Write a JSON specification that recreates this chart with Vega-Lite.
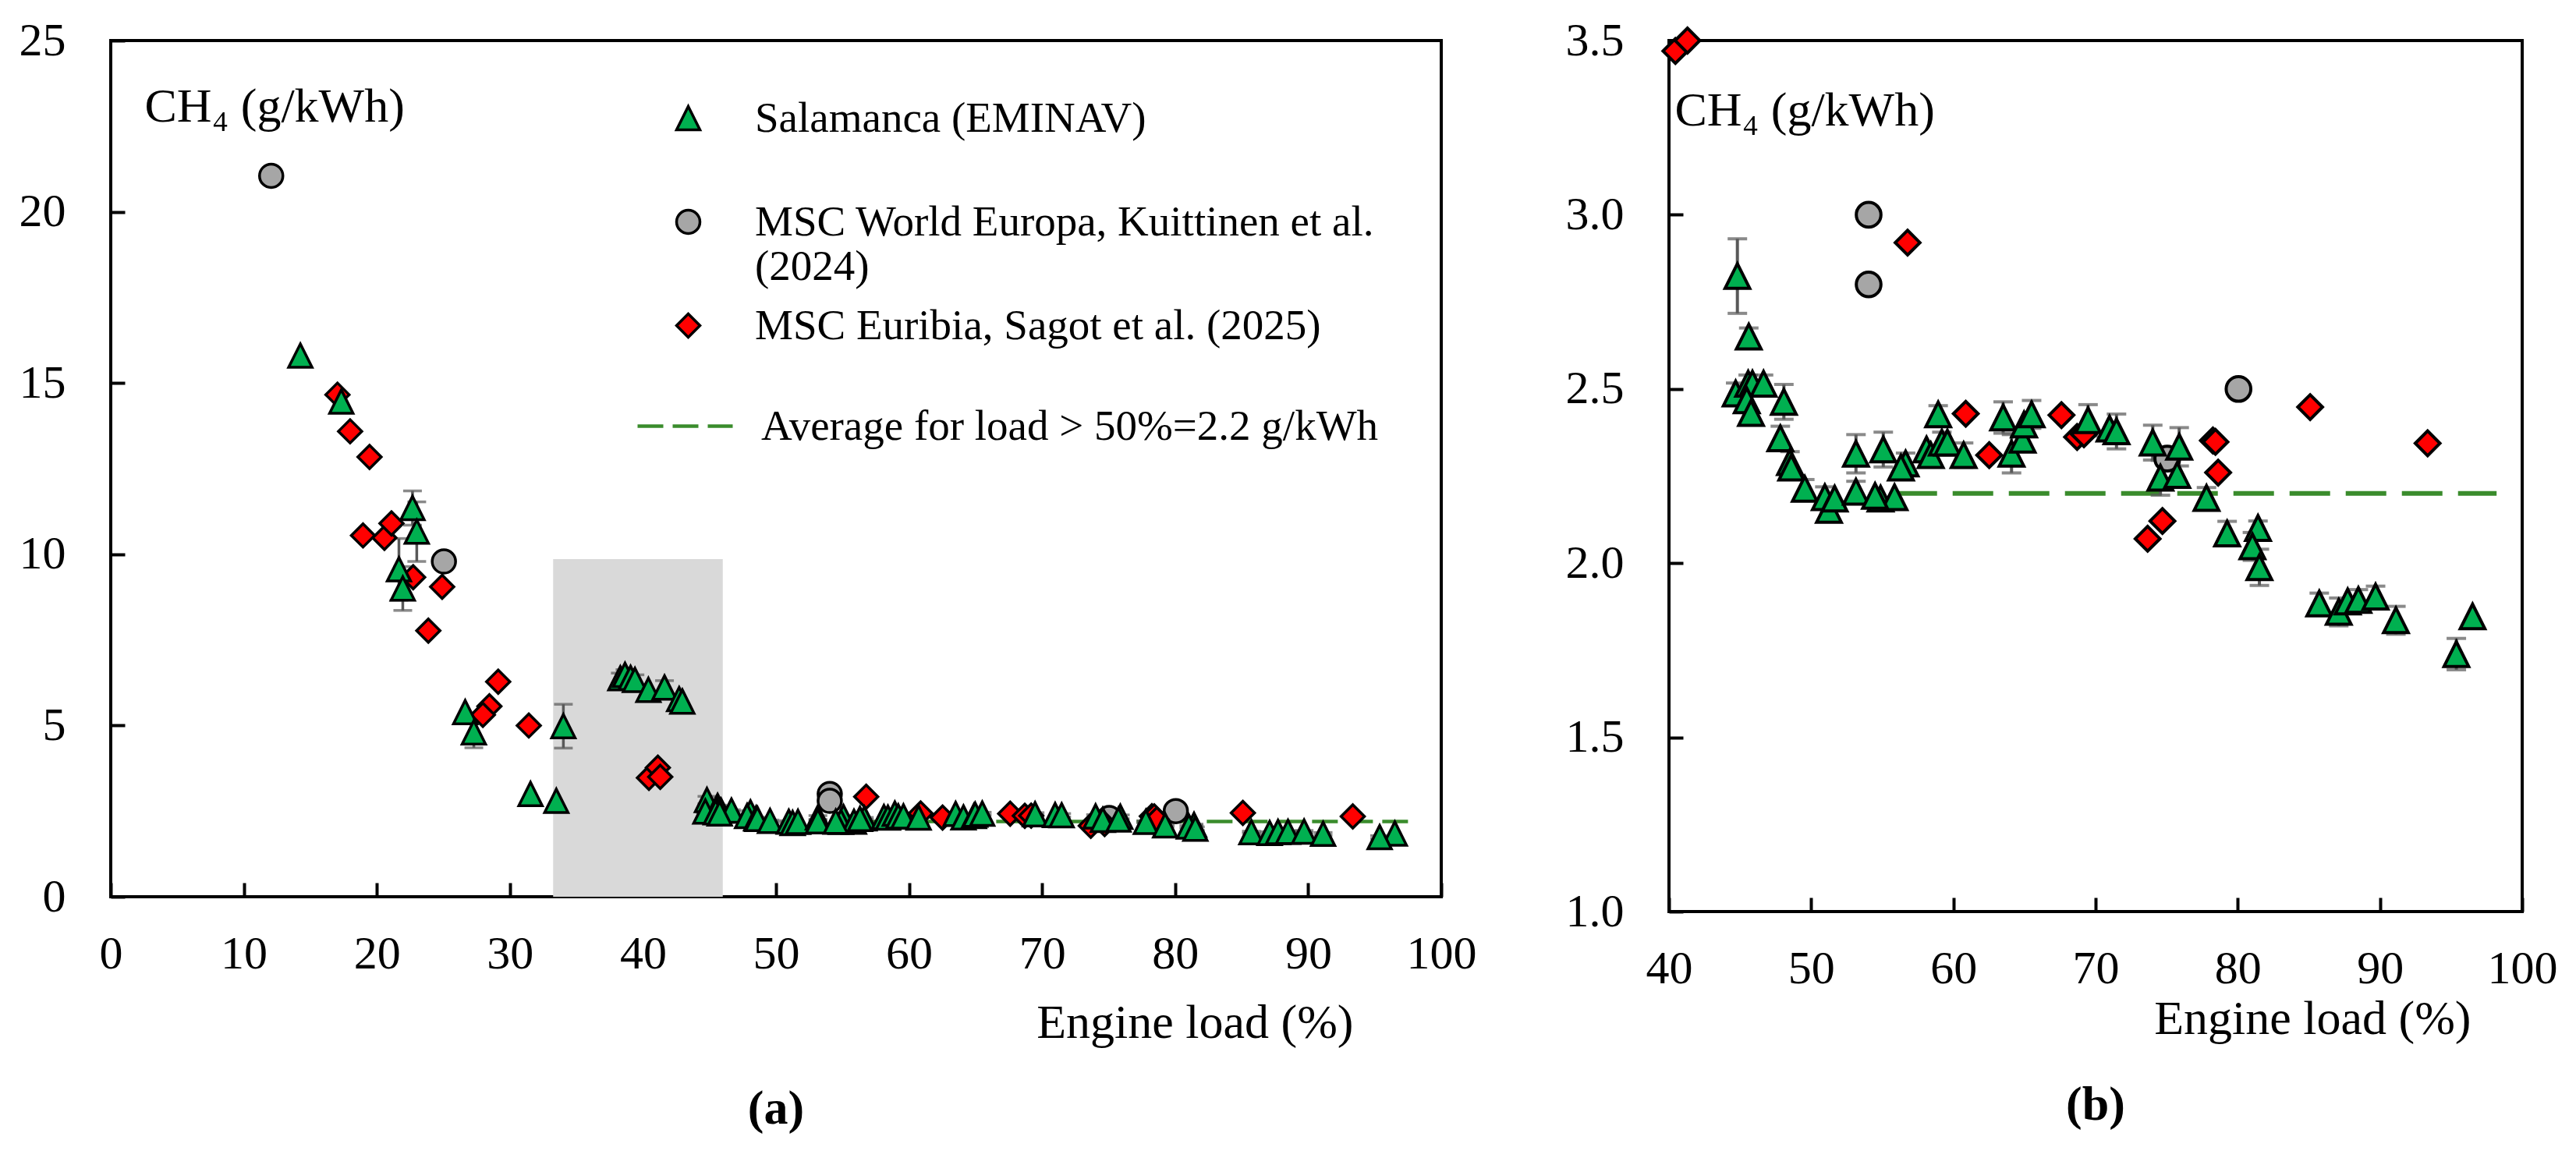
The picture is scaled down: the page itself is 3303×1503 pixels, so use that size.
{
  "$schema": "https://vega.github.io/schema/vega-lite/v6.json",
  "background": "white",
  "padding": {"left": 22, "top": 20, "right": 0, "bottom": 0},
  "spacing": 110,
  "datasets": {
    "pts": [
      {"src": "MSC World Europa, Kuittinen et al. (2024)", "load": 12.06, "ch4": 21.05},
      {"src": "MSC World Europa, Kuittinen et al. (2024)", "load": 25.04, "ch4": 9.79},
      {"src": "MSC World Europa, Kuittinen et al. (2024)", "load": 54.04, "ch4": 3.0},
      {"src": "MSC World Europa, Kuittinen et al. (2024)", "load": 54.04, "ch4": 2.8},
      {"src": "MSC World Europa, Kuittinen et al. (2024)", "load": 75.04, "ch4": 2.3},
      {"src": "MSC World Europa, Kuittinen et al. (2024)", "load": 80.05, "ch4": 2.5},
      {"src": "MSC Euribia, Sagot et al. (2025)", "load": 17.04, "ch4": 14.66},
      {"src": "MSC Euribia, Sagot et al. (2025)", "load": 17.99, "ch4": 13.59},
      {"src": "MSC Euribia, Sagot et al. (2025)", "load": 19.45, "ch4": 12.84},
      {"src": "MSC Euribia, Sagot et al. (2025)", "load": 18.96, "ch4": 10.55},
      {"src": "MSC Euribia, Sagot et al. (2025)", "load": 20.57, "ch4": 10.48},
      {"src": "MSC Euribia, Sagot et al. (2025)", "load": 21.1, "ch4": 10.9},
      {"src": "MSC Euribia, Sagot et al. (2025)", "load": 22.73, "ch4": 9.33},
      {"src": "MSC Euribia, Sagot et al. (2025)", "load": 24.91, "ch4": 9.05},
      {"src": "MSC Euribia, Sagot et al. (2025)", "load": 23.87, "ch4": 7.77},
      {"src": "MSC Euribia, Sagot et al. (2025)", "load": 29.12, "ch4": 6.28},
      {"src": "MSC Euribia, Sagot et al. (2025)", "load": 28.46, "ch4": 5.56},
      {"src": "MSC Euribia, Sagot et al. (2025)", "load": 27.97, "ch4": 5.31},
      {"src": "MSC Euribia, Sagot et al. (2025)", "load": 31.42, "ch4": 5.0},
      {"src": "MSC Euribia, Sagot et al. (2025)", "load": 40.45, "ch4": 3.47},
      {"src": "MSC Euribia, Sagot et al. (2025)", "load": 41.12, "ch4": 3.77},
      {"src": "MSC Euribia, Sagot et al. (2025)", "load": 41.3, "ch4": 3.5},
      {"src": "MSC Euribia, Sagot et al. (2025)", "load": 56.78, "ch4": 2.92},
      {"src": "MSC Euribia, Sagot et al. (2025)", "load": 60.87, "ch4": 2.429},
      {"src": "MSC Euribia, Sagot et al. (2025)", "load": 62.52, "ch4": 2.31},
      {"src": "MSC Euribia, Sagot et al. (2025)", "load": 67.6, "ch4": 2.425},
      {"src": "MSC Euribia, Sagot et al. (2025)", "load": 68.7, "ch4": 2.362},
      {"src": "MSC Euribia, Sagot et al. (2025)", "load": 69.18, "ch4": 2.37},
      {"src": "MSC Euribia, Sagot et al. (2025)", "load": 73.66, "ch4": 2.07},
      {"src": "MSC Euribia, Sagot et al. (2025)", "load": 74.7, "ch4": 2.121},
      {"src": "MSC Euribia, Sagot et al. (2025)", "load": 78.25, "ch4": 2.352},
      {"src": "MSC Euribia, Sagot et al. (2025)", "load": 78.43, "ch4": 2.348},
      {"src": "MSC Euribia, Sagot et al. (2025)", "load": 78.62, "ch4": 2.26},
      {"src": "MSC Euribia, Sagot et al. (2025)", "load": 85.09, "ch4": 2.448},
      {"src": "MSC Euribia, Sagot et al. (2025)", "load": 93.35, "ch4": 2.344},
      {"src": "Salamanca (EMINAV)", "load": 14.25, "ch4": 15.8},
      {"src": "Salamanca (EMINAV)", "load": 17.33, "ch4": 14.46},
      {"src": "Salamanca (EMINAV)", "load": 21.66, "ch4": 9.56, "err": 0.9},
      {"src": "Salamanca (EMINAV)", "load": 21.95, "ch4": 9.0, "err": 0.64},
      {"src": "Salamanca (EMINAV)", "load": 22.68, "ch4": 11.35, "err": 0.5},
      {"src": "Salamanca (EMINAV)", "load": 23.0, "ch4": 10.66, "err": 0.87},
      {"src": "Salamanca (EMINAV)", "load": 26.64, "ch4": 5.39},
      {"src": "Salamanca (EMINAV)", "load": 27.29, "ch4": 4.8, "err": 0.45},
      {"src": "Salamanca (EMINAV)", "load": 31.55, "ch4": 3.0},
      {"src": "Salamanca (EMINAV)", "load": 33.49, "ch4": 2.8},
      {"src": "Salamanca (EMINAV)", "load": 34.02, "ch4": 4.98, "err": 0.64},
      {"src": "Salamanca (EMINAV)", "load": 38.3, "ch4": 6.38, "err": 0.15},
      {"src": "Salamanca (EMINAV)", "load": 38.65, "ch4": 6.48, "err": 0.15},
      {"src": "Salamanca (EMINAV)", "load": 39.07, "ch4": 6.39},
      {"src": "Salamanca (EMINAV)", "load": 39.4, "ch4": 6.33, "err": 0.15},
      {"src": "Salamanca (EMINAV)", "load": 40.41, "ch4": 6.04},
      {"src": "Salamanca (EMINAV)", "load": 41.62, "ch4": 6.11, "err": 0.2},
      {"src": "Salamanca (EMINAV)", "load": 42.72, "ch4": 5.77},
      {"src": "Salamanca (EMINAV)", "load": 42.96, "ch4": 5.7},
      {"src": "Salamanca (EMINAV)", "load": 44.81, "ch4": 2.824, "err": 0.107},
      {"src": "Salamanca (EMINAV)", "load": 45.61, "ch4": 2.65, "err": 0.025},
      {"src": "Salamanca (EMINAV)", "load": 44.69, "ch4": 2.487, "err": 0.03},
      {"src": "Salamanca (EMINAV)", "load": 45.57, "ch4": 2.515, "err": 0.025},
      {"src": "Salamanca (EMINAV)", "load": 45.87, "ch4": 2.515},
      {"src": "Salamanca (EMINAV)", "load": 46.65, "ch4": 2.515, "err": 0.025},
      {"src": "Salamanca (EMINAV)", "load": 45.47, "ch4": 2.467},
      {"src": "Salamanca (EMINAV)", "load": 45.77, "ch4": 2.431},
      {"src": "Salamanca (EMINAV)", "load": 48.08, "ch4": 2.463, "err": 0.05},
      {"src": "Salamanca (EMINAV)", "load": 47.83, "ch4": 2.358, "err": 0.035},
      {"src": "Salamanca (EMINAV)", "load": 48.51, "ch4": 2.29, "err": 0.03},
      {"src": "Salamanca (EMINAV)", "load": 48.6, "ch4": 2.274},
      {"src": "Salamanca (EMINAV)", "load": 49.55, "ch4": 2.213, "err": 0.027},
      {"src": "Salamanca (EMINAV)", "load": 50.96, "ch4": 2.189, "err": 0.03},
      {"src": "Salamanca (EMINAV)", "load": 51.25, "ch4": 2.153},
      {"src": "Salamanca (EMINAV)", "load": 51.65, "ch4": 2.185},
      {"src": "Salamanca (EMINAV)", "load": 53.15, "ch4": 2.314, "err": 0.055},
      {"src": "Salamanca (EMINAV)", "load": 53.15, "ch4": 2.205, "err": 0.03},
      {"src": "Salamanca (EMINAV)", "load": 55.07, "ch4": 2.326, "err": 0.05},
      {"src": "Salamanca (EMINAV)", "load": 54.88, "ch4": 2.185},
      {"src": "Salamanca (EMINAV)", "load": 55.86, "ch4": 2.189},
      {"src": "Salamanca (EMINAV)", "load": 54.49, "ch4": 2.193},
      {"src": "Salamanca (EMINAV)", "load": 56.64, "ch4": 2.286, "err": 0.03},
      {"src": "Salamanca (EMINAV)", "load": 56.31, "ch4": 2.274},
      {"src": "Salamanca (EMINAV)", "load": 58.11, "ch4": 2.326},
      {"src": "Salamanca (EMINAV)", "load": 58.41, "ch4": 2.31},
      {"src": "Salamanca (EMINAV)", "load": 58.93, "ch4": 2.427, "err": 0.025},
      {"src": "Salamanca (EMINAV)", "load": 59.19, "ch4": 2.346, "err": 0.03},
      {"src": "Salamanca (EMINAV)", "load": 59.58, "ch4": 2.346},
      {"src": "Salamanca (EMINAV)", "load": 60.72, "ch4": 2.31, "err": 0.035},
      {"src": "Salamanca (EMINAV)", "load": 63.5, "ch4": 2.418, "err": 0.045},
      {"src": "Salamanca (EMINAV)", "load": 64.09, "ch4": 2.314, "err": 0.055},
      {"src": "Salamanca (EMINAV)", "load": 64.87, "ch4": 2.354},
      {"src": "Salamanca (EMINAV)", "load": 64.97, "ch4": 2.398},
      {"src": "Salamanca (EMINAV)", "load": 65.5, "ch4": 2.427, "err": 0.04},
      {"src": "Salamanca (EMINAV)", "load": 69.47, "ch4": 2.41, "err": 0.045},
      {"src": "Salamanca (EMINAV)", "load": 70.98, "ch4": 2.386},
      {"src": "Salamanca (EMINAV)", "load": 71.47, "ch4": 2.378, "err": 0.05},
      {"src": "Salamanca (EMINAV)", "load": 74.02, "ch4": 2.346, "err": 0.05},
      {"src": "Salamanca (EMINAV)", "load": 75.88, "ch4": 2.334, "err": 0.055},
      {"src": "Salamanca (EMINAV)", "load": 74.56, "ch4": 2.245, "err": 0.05},
      {"src": "Salamanca (EMINAV)", "load": 75.74, "ch4": 2.253},
      {"src": "Salamanca (EMINAV)", "load": 77.8, "ch4": 2.187, "err": 0.03},
      {"src": "Salamanca (EMINAV)", "load": 79.25, "ch4": 2.085, "err": 0.035},
      {"src": "Salamanca (EMINAV)", "load": 81.42, "ch4": 2.101, "err": 0.02},
      {"src": "Salamanca (EMINAV)", "load": 81.03, "ch4": 2.048, "err": 0.04},
      {"src": "Salamanca (EMINAV)", "load": 81.52, "ch4": 1.988, "err": 0.052},
      {"src": "Salamanca (EMINAV)", "load": 85.73, "ch4": 1.884, "err": 0.03},
      {"src": "Salamanca (EMINAV)", "load": 87.1, "ch4": 1.86, "err": 0.04},
      {"src": "Salamanca (EMINAV)", "load": 87.73, "ch4": 1.89},
      {"src": "Salamanca (EMINAV)", "load": 88.48, "ch4": 1.894, "err": 0.03},
      {"src": "Salamanca (EMINAV)", "load": 89.69, "ch4": 1.904, "err": 0.03},
      {"src": "Salamanca (EMINAV)", "load": 91.12, "ch4": 1.836, "err": 0.04},
      {"src": "Salamanca (EMINAV)", "load": 96.51, "ch4": 1.847},
      {"src": "Salamanca (EMINAV)", "load": 95.37, "ch4": 1.739, "err": 0.045}
    ],
    "avg": [
      {"label": "Average for load > 50%=2.2 g/kWh", "load": 56, "load2": 98.2, "ch4": 2.2}
    ],
    "shade": [
      {"load": 33.25, "load2": 46, "ch4": 0, "ch42": 9.86}
    ]
  },
  "resolve": {
    "scale": {"x": "independent", "y": "independent", "fill": "independent", "shape": "independent", "stroke": "independent"},
    "legend": {"fill": "independent", "shape": "independent", "stroke": "independent"}
  },
  "hconcat": [
    {
      "width": 1706,
      "height": 1098,
      "title": {"text": "(a)", "orient": "bottom", "offset": 50},
      "encoding": {
        "x": {
          "field": "load", "type": "quantitative",
          "scale": {"domain": [0, 100], "nice": false, "zero": false},
          "axis": {
            "values": [0, 10, 20, 30, 40, 50, 60, 70, 80, 90, 100],
            "labelFlush": false,
            "title": "Engine load (%)",
            "titleX": 1593, "titleY": 180, "titleAlign": "right", "titleAnchor": null, "titleBaseline": "alphabetic"
          }
        },
        "y": {
          "field": "ch4", "type": "quantitative",
          "scale": {"domain": [0, 25], "nice": false},
          "axis": {
            "values": [0, 5, 10, 15, 20, 25],
            "title": "CH₄ (g/kWh)",
            "titleAngle": 0, "titleX": 43, "titleY": 103, "titleAlign": "left", "titleBaseline": "alphabetic"
          }
        }
      },
      "layer": [
        {
          "data": {"name": "shade"},
          "mark": {"type": "rect", "color": "#d9d9d9"},
          "encoding": {"x2": {"field": "load2"}, "y2": {"field": "ch42"}}
        },
        {
          "data": {"name": "avg"},
          "mark": {"type": "rule", "strokeDash": [33, 12], "strokeWidth": 4.5},
          "encoding": {
            "x2": {"field": "load2"},
            "stroke": {
              "field": "label", "type": "nominal",
              "scale": {"range": ["#3a8c2c"]},
              "legend": {
                "orient": "none", "legendX": 673, "legendY": 431, "title": null,
                "symbolType": "stroke", "symbolSize": 14884, "symbolStrokeWidth": 4.5,
                "symbolDash": [33, 12], "labelOffset": 34
              }
            }
          }
        },
        {
          "data": {"name": "pts"},
          "transform": [{"filter": "isValid(datum.err)"}],
          "mark": {
            "type": "errorbar",
            "rule": {"color": "#595959", "strokeWidth": 3.5},
            "ticks": {"color": "#595959", "size": 24, "thickness": 3.5}
          },
          "encoding": {"yError": {"field": "err"}}
        },
        {
          "data": {"name": "pts"},
          "mark": {"type": "point", "filled": true, "stroke": "black", "strokeWidth": 3.5, "opacity": 1, "size": 900},
          "encoding": {
            "fill": {
              "field": "src", "type": "nominal",
              "scale": {
                "domain": ["Salamanca (EMINAV)", "MSC World Europa, Kuittinen et al. (2024)", "MSC Euribia, Sagot et al. (2025)"],
                "range": ["#00b050", "#a6a6a6", "#ff0000"]
              },
              "legend": {
                "orient": "none", "legendX": 713, "legendY": 72, "title": null,
                "symbolSize": 900, "symbolStrokeColor": "black", "symbolStrokeWidth": 3.5,
                "labelOffset": 58, "rowPadding": 20,
                "labelExpr": "datum.label == 'MSC World Europa, Kuittinen et al. (2024)' ? ['MSC World Europa, Kuittinen et al.', '(2024)'] : datum.label == 'Salamanca (EMINAV)' ? ['Salamanca (EMINAV)', ' '] : datum.label"
              }
            },
            "shape": {
              "field": "src", "type": "nominal",
              "scale": {
                "domain": ["Salamanca (EMINAV)", "MSC World Europa, Kuittinen et al. (2024)", "MSC Euribia, Sagot et al. (2025)"],
                "range": ["M0,-1L1,1L-1,1Z", "circle", "diamond"]
              }
            }
          }
        }
      ]
    },
    {
      "width": 1094,
      "height": 1117,
      "title": {"text": "(b)", "orient": "bottom", "offset": 50},
      "encoding": {
        "x": {
          "field": "load", "type": "quantitative",
          "scale": {"domain": [40, 100], "nice": false, "zero": false},
          "axis": {
            "values": [40, 50, 60, 70, 80, 90, 100],
            "labelFlush": false,
            "title": "Engine load (%)",
            "titleX": 1028, "titleY": 156, "titleAlign": "right", "titleAnchor": null, "titleBaseline": "alphabetic"
          }
        },
        "y": {
          "field": "ch4", "type": "quantitative",
          "scale": {"domain": [1, 3.5], "nice": false, "zero": false},
          "axis": {
            "values": [1, 1.5, 2, 2.5, 3, 3.5],
            "format": ".1f",
            "title": "CH₄ (g/kWh)",
            "titleAngle": 0, "titleX": 7, "titleY": 108, "titleAlign": "left", "titleBaseline": "alphabetic"
          }
        }
      },
      "layer": [
        {
          "data": {"name": "avg"},
          "mark": {"type": "rule", "strokeDash": [52, 20], "strokeWidth": 6},
          "encoding": {
            "x2": {"field": "load2"},
            "stroke": {"field": "label", "type": "nominal", "scale": {"range": ["#3a8c2c"]}, "legend": null}
          }
        },
        {
          "data": {"name": "pts"},
          "transform": [{"filter": "isValid(datum.err) && datum.load >= 40 && datum.ch4 <= 3.5"}],
          "mark": {
            "type": "errorbar",
            "rule": {"color": "#595959", "strokeWidth": 4},
            "ticks": {"color": "#595959", "size": 25, "thickness": 4}
          },
          "encoding": {"yError": {"field": "err"}}
        },
        {
          "data": {"name": "pts"},
          "transform": [{"filter": "datum.load >= 40 && datum.ch4 <= 3.5"}],
          "mark": {"type": "point", "filled": true, "stroke": "black", "strokeWidth": 4, "opacity": 1, "size": 1000},
          "encoding": {
            "fill": {
              "field": "src", "type": "nominal",
              "scale": {
                "domain": ["Salamanca (EMINAV)", "MSC World Europa, Kuittinen et al. (2024)", "MSC Euribia, Sagot et al. (2025)"],
                "range": ["#00b050", "#a6a6a6", "#ff0000"]
              },
              "legend": null
            },
            "shape": {
              "field": "src", "type": "nominal",
              "scale": {
                "domain": ["Salamanca (EMINAV)", "MSC World Europa, Kuittinen et al. (2024)", "MSC Euribia, Sagot et al. (2025)"],
                "range": ["M0,-1L1,1L-1,1Z", "circle", "diamond"]
              },
              "legend": null
            }
          }
        }
      ]
    }
  ],
  "config": {
    "font": "Liberation Serif, serif",
    "view": {"stroke": "black", "strokeWidth": 4, "fill": "white"},
    "axis": {
      "domain": false,
      "grid": false,
      "ticks": true,
      "tickSize": -18,
      "tickWidth": 4,
      "tickColor": "black",
      "labelFont": "Liberation Serif, serif",
      "labelFontSize": 60,
      "labelColor": "black",
      "labelFlush": false,
      "labelOverlap": false,
      "titleFont": "Liberation Serif, serif",
      "titleFontSize": 62,
      "titleFontWeight": "normal",
      "titleColor": "black"
    },
    "axisX": {"labelPadding": 62},
    "axisY": {"labelPadding": 76},
    "legend": {
      "labelFont": "Liberation Serif, serif",
      "labelFontSize": 55,
      "labelColor": "black",
      "labelLimit": 2000,
      "padding": 0,
      "symbolOpacity": 1
    },
    "title": {
      "font": "Liberation Serif, serif",
      "fontSize": 62,
      "fontWeight": "bold",
      "color": "black",
      "anchor": "middle"
    }
  }
}
